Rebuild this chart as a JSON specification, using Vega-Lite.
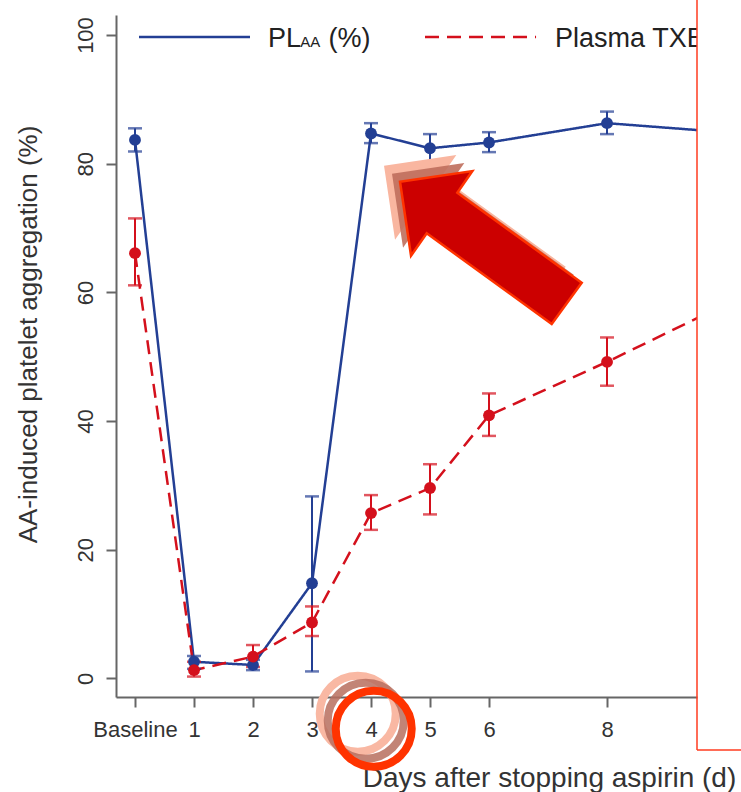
{
  "$schema": "https://vega.github.io/schema/vega-lite/v6.json",
  "width": 581,
  "height": 682,
  "autosize": {"type": "none"},
  "padding": {"left": 116, "top": 15, "right": 44, "bottom": 95},
  "background": "white",
  "config": {"view": {"stroke": null}, "font": "Liberation Sans"},
  "datasets": {
    "series": [
      {"day": 0, "series": "PL", "value": 83.7, "lo": 81.9, "hi": 85.5},
      {"day": 1, "series": "PL", "value": 2.6, "lo": 1.5, "hi": 3.5},
      {"day": 2, "series": "PL", "value": 2.1, "lo": 1.3, "hi": 2.9},
      {"day": 3, "series": "PL", "value": 14.8, "lo": 1.1, "hi": 28.3},
      {"day": 4, "series": "PL", "value": 84.7, "lo": 83.2, "hi": 86.3},
      {"day": 5, "series": "PL", "value": 82.4, "lo": 80.3, "hi": 84.6},
      {"day": 6, "series": "PL", "value": 83.3, "lo": 81.8, "hi": 84.9},
      {"day": 8, "series": "PL", "value": 86.3, "lo": 84.6, "hi": 88.1},
      {"day": 10, "series": "PL", "value": 84.9, "lo": 83.2, "hi": 86.6},
      {"day": 0, "series": "TX", "value": 66.1, "lo": 61.1, "hi": 71.5},
      {"day": 1, "series": "TX", "value": 1.3, "lo": 0.3, "hi": 2.6},
      {"day": 2, "series": "TX", "value": 3.4, "lo": 1.8, "hi": 5.2},
      {"day": 3, "series": "TX", "value": 8.7, "lo": 6.6, "hi": 11.2},
      {"day": 4, "series": "TX", "value": 25.7, "lo": 23.1, "hi": 28.5},
      {"day": 5, "series": "TX", "value": 29.6, "lo": 25.5, "hi": 33.3},
      {"day": 6, "series": "TX", "value": 40.9, "lo": 37.7, "hi": 44.3},
      {"day": 8, "series": "TX", "value": 49.2, "lo": 45.5, "hi": 53.0},
      {"day": 10, "series": "TX", "value": 58.1, "lo": 55.0, "hi": 61.2}
    ],
    "legendLines": [
      {"series": "PL", "x": 0.068, "x2": 1.949, "y": 99.69},
      {"series": "TX", "x": 4.915, "x2": 6.797, "y": 99.69}
    ],
    "legendText": [
      {"text": "PL", "role": "main", "x": 2.254, "y": 98.18},
      {"text": "AA", "role": "sub", "x": 2.80, "y": 98.18},
      {"text": "(%)", "role": "main", "x": 3.28, "y": 98.18},
      {"text": "Plasma TXB₂ (%)", "role": "main", "x": 7.12, "y": 98.18}
    ],
    "frame": [
      {"x": 9.525, "x2": 9.525, "y": -11.1, "y2": 105.5},
      {"x": 9.525, "x2": 10.6, "y": -11.1, "y2": -11.1}
    ],
    "callouts": [
      {"kind": "arrow", "x": 6.034, "y": 67.05},
      {"kind": "ring", "x": 4.046, "y": -7.8}
    ]
  },
  "layer": [
    {
      "data": {"name": "series"},
      "mark": {"type": "line", "clip": true, "strokeWidth": 2.5},
      "encoding": {
        "x": {
          "field": "day", "type": "quantitative",
          "scale": {"domain": [-0.322, 9.525], "nice": false, "zero": false},
          "axis": {
            "values": [0, 1, 2, 3, 4, 5, 6, 8, 10],
            "labelExpr": "datum.value == 0 ? 'Baseline' : format(datum.value, 'd')",
            "title": "Days after stopping aspirin (d)",
            "grid": false,
            "domainColor": "#666666", "domainWidth": 2,
            "tickColor": "#666666", "tickWidth": 2, "tickSize": 10,
            "labelFontSize": 22, "labelColor": "#333333", "labelPadding": 12,
            "labelFlush": false, "labelOverlap": false,
            "titleFontSize": 28, "titleFontWeight": "normal", "titleColor": "#333333",
            "titleX": 433, "titleY": 89, "titleAlign": "center", "titleBaseline": "alphabetic"
          }
        },
        "y": {
          "field": "value", "type": "quantitative",
          "scale": {"domain": [-2.875, 103.11], "nice": false, "zero": false},
          "axis": {
            "values": [0, 20, 40, 60, 80, 100],
            "title": "AA-induced platelet aggregation (%)",
            "grid": false,
            "domainColor": "#666666", "domainWidth": 2,
            "tickColor": "#666666", "tickWidth": 2, "tickSize": 10,
            "labelFontSize": 22, "labelColor": "#333333", "labelPadding": 9,
            "labelAngle": -90, "labelAlign": "center", "labelBaseline": "bottom",
            "labelFlush": false, "labelOverlap": false,
            "titleFontSize": 26, "titleFontWeight": "normal", "titleColor": "#333333",
            "titleAngle": -90, "titleX": -88, "titleY": 319, "titleAlign": "center", "titleBaseline": "middle"
          }
        },
        "color": {"field": "series", "type": "nominal", "scale": {"domain": ["PL", "TX"], "range": ["#233F94", "#D4101C"]}, "legend": null},
        "strokeDash": {"field": "series", "type": "nominal", "scale": {"domain": ["PL", "TX"], "range": [[1, 0], [14, 8]]}, "legend": null}
      }
    },
    {
      "data": {"name": "series"},
      "mark": {"type": "rule", "clip": true, "strokeWidth": 2},
      "encoding": {
        "x": {"field": "day", "type": "quantitative"},
        "y": {"field": "lo", "type": "quantitative"},
        "y2": {"field": "hi"},
        "color": {"field": "series", "type": "nominal", "legend": null}
      }
    },
    {
      "data": {"name": "series"},
      "mark": {"type": "tick", "clip": true, "orient": "horizontal", "size": 14, "thickness": 2.5},
      "encoding": {
        "x": {"field": "day", "type": "quantitative"},
        "y": {"field": "lo", "type": "quantitative"},
        "color": {"field": "series", "type": "nominal", "legend": null}
      }
    },
    {
      "data": {"name": "series"},
      "mark": {"type": "tick", "clip": true, "orient": "horizontal", "size": 14, "thickness": 2.5},
      "encoding": {
        "x": {"field": "day", "type": "quantitative"},
        "y": {"field": "hi", "type": "quantitative"},
        "color": {"field": "series", "type": "nominal", "legend": null}
      }
    },
    {
      "data": {"name": "series"},
      "mark": {"type": "point", "clip": true, "filled": true, "shape": "circle", "size": 140, "opacity": 1},
      "encoding": {
        "x": {"field": "day", "type": "quantitative"},
        "y": {"field": "value", "type": "quantitative"},
        "color": {"field": "series", "type": "nominal", "legend": null}
      }
    },
    {
      "data": {"name": "legendLines"},
      "mark": {"type": "rule", "clip": true, "strokeWidth": 2.5},
      "encoding": {
        "x": {"field": "x", "type": "quantitative"},
        "x2": {"field": "x2"},
        "y": {"field": "y", "type": "quantitative"},
        "color": {"field": "series", "type": "nominal", "legend": null},
        "strokeDash": {"field": "series", "type": "nominal", "legend": null}
      }
    },
    {
      "data": {"name": "legendText"},
      "transform": [{"filter": "datum.role == 'main'"}],
      "mark": {"type": "text", "clip": true, "align": "left", "baseline": "alphabetic", "fontSize": 27, "color": "#222222"},
      "encoding": {
        "x": {"field": "x", "type": "quantitative"},
        "y": {"field": "y", "type": "quantitative"},
        "text": {"field": "text"}
      }
    },
    {
      "data": {"name": "legendText"},
      "transform": [{"filter": "datum.role == 'sub'"}],
      "mark": {"type": "text", "clip": true, "align": "left", "baseline": "alphabetic", "fontSize": 15, "color": "#222222"},
      "encoding": {
        "x": {"field": "x", "type": "quantitative"},
        "y": {"field": "y", "type": "quantitative"},
        "text": {"field": "text"}
      }
    },
    {
      "data": {"name": "callouts"},
      "transform": [{"filter": "datum.kind == 'arrow'"}],
      "mark": {"type": "point", "clip": false, "filled": true, "shape": "M-0.91,-0.653 L-0.187,-0.76 L-0.337,-0.543 L0.907,0.357 L0.607,0.77 L-0.643,-0.137 L-0.8,0.087 Z", "size": 40000, "color": "#F9B6A0", "opacity": 1, "xOffset": -16, "yOffset": -16},
      "encoding": {
        "x": {"field": "x", "type": "quantitative"},
        "y": {"field": "y", "type": "quantitative"}
      }
    },
    {
      "data": {"name": "callouts"},
      "transform": [{"filter": "datum.kind == 'arrow'"}],
      "mark": {"type": "point", "clip": false, "filled": true, "shape": "M-0.91,-0.653 L-0.187,-0.76 L-0.337,-0.543 L0.907,0.357 L0.607,0.77 L-0.643,-0.137 L-0.8,0.087 Z", "size": 40000, "color": "#BF6E5C", "opacity": 0.9, "xOffset": -8, "yOffset": -8},
      "encoding": {
        "x": {"field": "x", "type": "quantitative"},
        "y": {"field": "y", "type": "quantitative"}
      }
    },
    {
      "data": {"name": "callouts"},
      "transform": [{"filter": "datum.kind == 'arrow'"}],
      "mark": {"type": "point", "clip": false, "filled": true, "shape": "M-0.91,-0.653 L-0.187,-0.76 L-0.337,-0.543 L0.907,0.357 L0.607,0.77 L-0.643,-0.137 L-0.8,0.087 Z", "size": 40000, "fill": "#CC0000", "stroke": "#FF3300", "strokeWidth": 2.5, "opacity": 1, "fillOpacity": 1, "strokeOpacity": 1},
      "encoding": {
        "x": {"field": "x", "type": "quantitative"},
        "y": {"field": "y", "type": "quantitative"}
      }
    },
    {
      "data": {"name": "callouts"},
      "transform": [{"filter": "datum.kind == 'ring'"}],
      "mark": {"type": "point", "clip": false, "filled": false, "shape": "circle", "size": 5776, "stroke": "#F9B8A3", "strokeWidth": 8, "opacity": 1, "xOffset": -16, "yOffset": -15},
      "encoding": {
        "x": {"field": "x", "type": "quantitative"},
        "y": {"field": "y", "type": "quantitative"}
      }
    },
    {
      "data": {"name": "callouts"},
      "transform": [{"filter": "datum.kind == 'ring'"}],
      "mark": {"type": "point", "clip": false, "filled": false, "shape": "circle", "size": 5776, "stroke": "#B86F5F", "strokeWidth": 8, "opacity": 0.85, "xOffset": -8, "yOffset": -8},
      "encoding": {
        "x": {"field": "x", "type": "quantitative"},
        "y": {"field": "y", "type": "quantitative"}
      }
    },
    {
      "data": {"name": "callouts"},
      "transform": [{"filter": "datum.kind == 'ring'"}],
      "mark": {"type": "point", "clip": false, "filled": false, "shape": "circle", "size": 5776, "stroke": "#FF3300", "strokeWidth": 8, "opacity": 1},
      "encoding": {
        "x": {"field": "x", "type": "quantitative"},
        "y": {"field": "y", "type": "quantitative"}
      }
    },
    {
      "data": {"name": "frame"},
      "mark": {"type": "rule", "clip": false, "color": "#FF3B1F", "strokeWidth": 1.5},
      "encoding": {
        "x": {"field": "x", "type": "quantitative"},
        "x2": {"field": "x2"},
        "y": {"field": "y", "type": "quantitative"},
        "y2": {"field": "y2"}
      }
    }
  ]
}
